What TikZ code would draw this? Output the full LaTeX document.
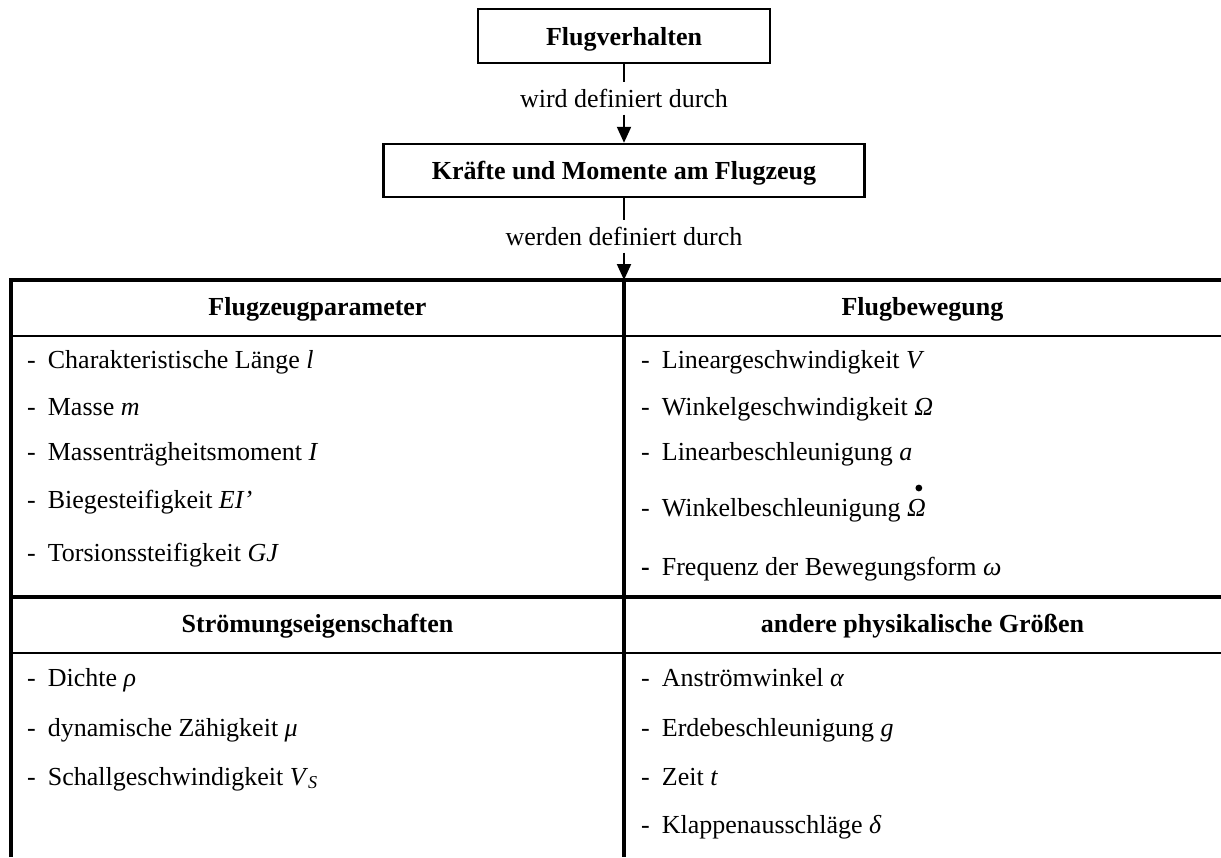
\documentclass[tikz,border=0pt]{standalone}
\usepackage{fontspec}
\setmainfont{Liberation Serif}
\usetikzlibrary{arrows.meta}
\newcommand{\strich}{-\hspace{0.47em}}

\begin{document}
\begin{tikzpicture}[x=0.5pt, y=-0.5pt, line width=1pt,
  font=\fontsize{13}{15.6}\selectfont,
  box/.style={draw, line width=1.2pt, font=\fontsize{13}{15.6}\selectfont\bfseries, text depth=0pt, inner sep=0pt},
  lbl/.style={inner sep=0pt, minimum height=15.5pt},
  pfeil/.style={-{Triangle[length=8pt,width=7pt]}},
  head/.style={anchor=base, font=\fontsize{13}{15.6}\selectfont\bfseries},
  item/.style={anchor=base west, inner sep=0pt},
  rahmen/.style={line width=1.8pt},
  trenn/.style={line width=1.2pt}]
  \useasboundingbox (0,0) rectangle (1221,857);

  % Kette oben
  \node[box, minimum width=146pt, minimum height=27pt] (verhalten) at (624,36) {Flugverhalten};
  \node[lbl] (def1) at (624,98) {wird definiert durch};
  \node[box, minimum width=240.5pt, minimum height=26.5pt] (kraefte) at (624,170.5) {Kräfte und Momente am Flugzeug};
  \node[lbl] (def2) at (624,236) {werden definiert durch};
  \coordinate (tabelle) at (624,280);
  \draw (verhalten) -- (def1);
  \draw[pfeil] (def1) -- (kraefte);
  \draw (kraefte) -- (def2);
  \draw[pfeil] (def2) -- (tabelle);

  % Tabelle
  \draw[rahmen] (11,857) -- (11,280) -- (1221,280);
  \draw[rahmen] (624,280) -- (624,857);
  \draw[rahmen] (11,597) -- (1221,597);
  \draw[trenn] (11,336) -- (1221,336);
  \draw[trenn] (11,653) -- (1221,653);

  \node[head] (parameter) at (317.5,315) {Flugzeugparameter};
  \node[head] (bewegung) at (922.5,315) {Flugbewegung};
  \node[head] (stroemung) at (317.5,632) {Strömungseigenschaften};
  \node[head] (andere) at (922.5,632) {andere physikalische Größen};

  \foreach \yc/\txt [count=\i] in {368/{Charakteristische Länge \textit{l}}, 415/{Masse \textit{m}},
      460/{Massenträgheitsmoment \textit{I}}, 508/{Biegesteifigkeit \textit{EI’}}, 561/{Torsionssteifigkeit \textit{GJ}}}{
    \node[item] (param\i) at (26,\yc) {\strich\txt};
  }
  \foreach \yc/\txt [count=\i] in {368/{Lineargeschwindigkeit \textit{V}}, 415/{Winkelgeschwindigkeit \textit{Ω}},
      460/{Linearbeschleunigung \textit{a}}, 516/{Winkelbeschleunigung \textit{Ω}}}{
    \node[item] (beweg\i) at (640,\yc) {\strich\txt};
  }
  % Punkt ueber Omega
  \fill ([xshift=-4pt,yshift=14pt]beweg4.base east) circle (1.7pt);
  \node[item] (beweg5) at (640,575) {\textbf{-}\hspace{0.47em}Frequenz der Bewegungsform \textit{ω}};
  \foreach \yc/\txt [count=\i] in {686/{Dichte \textit{ρ}}, 736/{dynamische Zähigkeit \textit{μ}},
      785/{Schallgeschwindigkeit \textit{V}\textsubscript{\textit{S}}}}{
    \node[item] (stroem\i) at (26,\yc) {\strich\txt};
  }
  \foreach \yc/\txt [count=\i] in {686/{Anströmwinkel \textit{α}}, 736/{Erdebeschleunigung \textit{g}},
      785/{Zeit \textit{t}}, 833/{Klappenausschläge \textit{δ}}}{
    \node[item] (groesse\i) at (640,\yc) {\strich\txt};
  }
\end{tikzpicture}
\end{document}
